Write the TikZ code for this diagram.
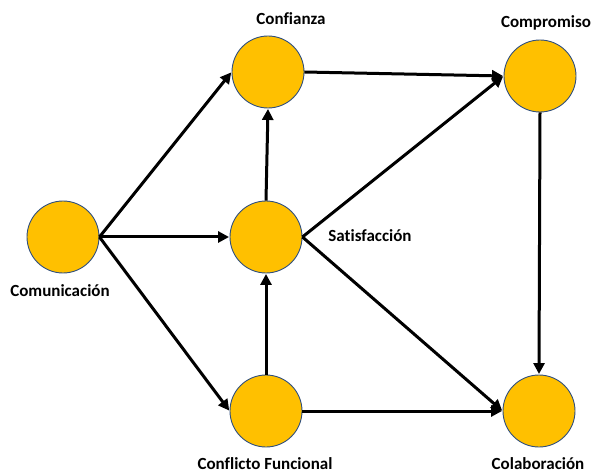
\documentclass[tikz,border=0pt]{standalone}
\usepackage{fontspec}
\setmainfont[Ligatures={NoCommon}]{Carlito}
\usetikzlibrary{arrows.meta}
\definecolor{nodefill}{HTML}{FFC000}
\definecolor{nodeline}{HTML}{2F4F7F}
\begin{document}
\begin{tikzpicture}[x=1pt,y=-1pt,
  circ/.style={circle,draw=nodeline,line width=0.9pt,fill=nodefill,minimum size=72pt,inner sep=0pt},
  lbl/.style={font=\fontsize{17}{20}\selectfont\bfseries,anchor=base,inner sep=0pt},
  arr/.style={line width=3pt,-{Triangle[length=11pt,width=11pt]},shorten >=0.5pt}]
\useasboundingbox (0,0) rectangle (592,473);
\node[circ] (com) at (63,237) {};
\node[circ] (conf) at (268,72) {};
\node[circ] (sat) at (266,237) {};
\node[circ] (cf) at (266,411) {};
\node[circ] (comp) at (540,76) {};
\node[circ] (col) at (539,411) {};
\node[lbl] (lcom) at (60,297) {Comunicación};
\node[lbl] (lconf) at (291,25) {Conf\kern0ptianza};
\node[lbl] (lsat) at (370,242) {Satisfacción};
\node[lbl] (lcf) at (265,469) {Conf\kern0ptlicto Funcional};
\node[lbl] (lcomp) at (546,28) {Compromiso};
\node[lbl] (lcol) at (538,469) {Colaboración};
\draw[arr] (com.east) -- (conf.west);
\draw[arr] (com.east) -- (sat.west);
\draw[arr] (com.east) -- (cf.west);
\draw[arr] (sat.north) -- (conf.south);
\draw[arr] (cf.north) -- (sat.south);
\draw[arr] (conf.east) -- (comp.west);
\draw[arr] (sat.east) -- (comp.west);
\draw[arr] (sat.east) -- (col.west);
\draw[arr] (cf.east) -- (col.west);
\draw[arr] (comp.south) -- (col.north);
\end{tikzpicture}
\end{document}
